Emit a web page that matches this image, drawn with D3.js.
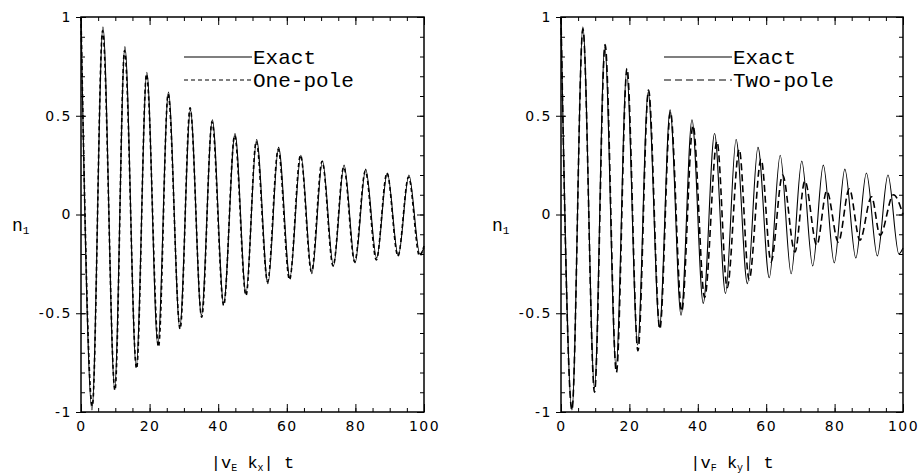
<!DOCTYPE html>
<html>
<head>
<meta charset="utf-8">
<script src="https://cdn.jsdelivr.net/npm/d3@7"></script>
<style>
  body { margin: 0; background: #fff; }
</style>
</head>
<body>
<div id="chart"></div>
<script>
// turning points (t, n1)
const exactT = [0, 3.2, 6.4, 9.8, 12.8, 16.1, 19.2, 22.4, 25.5, 28.8, 31.9, 35.1, 38.3, 41.6, 44.9, 48.1, 51.2, 54.5, 57.6, 60.9, 64.1, 67.3, 70.4, 73.6, 76.7, 79.9, 83.0, 86.2, 89.3, 92.5, 95.6, 98.8, 100];
const exactN = [1.0, -0.99, 0.95, -0.88, 0.85, -0.77, 0.72, -0.66, 0.62, -0.57, 0.53, -0.51, 0.48, -0.45, 0.41, -0.40, 0.38, -0.35, 0.34, -0.32, 0.30, -0.30, 0.27, -0.26, 0.25, -0.245, 0.23, -0.22, 0.21, -0.21, 0.20, -0.20, -0.17];

const onePoleT = [0, 3.3, 6.3, 9.9, 12.7, 16.2, 19.1, 22.6, 25.4, 28.9, 31.8, 35.2, 38.2, 41.6, 44.8, 48.1, 51.1, 54.4, 57.5, 60.8, 64.0, 67.2, 70.3, 73.5, 76.6, 79.8, 82.9, 86.1, 89.2, 92.4, 95.5, 98.7, 100];
const onePoleN = [1.0, -0.97, 0.93, -0.89, 0.83, -0.78, 0.71, -0.67, 0.61, -0.58, 0.54, -0.52, 0.47, -0.46, 0.40, -0.41, 0.37, -0.34, 0.33, -0.33, 0.30, -0.29, 0.27, -0.26, 0.24, -0.24, 0.22, -0.23, 0.21, -0.21, 0.19, -0.21, -0.16];

const twoPoleT = [0, 3.2, 6.4, 9.8, 12.9, 16.2, 19.3, 22.5, 25.6, 28.9, 32.0, 35.3, 38.6, 42.0, 45.6, 48.6, 52.1, 55.0, 58.5, 61.4, 64.8, 68.4, 71.3, 74.8, 77.7, 81.1, 84.3, 87.4, 90.8, 93.3, 97.2, 100];
const twoPoleN = [1.0, -0.99, 0.94, -0.90, 0.86, -0.80, 0.74, -0.69, 0.63, -0.58, 0.52, -0.49, 0.45, -0.42, 0.37, -0.37, 0.33, -0.33, 0.28, -0.24, 0.20, -0.19, 0.17, -0.155, 0.12, -0.14, 0.13, -0.13, 0.09, -0.105, 0.10, 0.0];

const xMajor = [0, 20, 40, 60, 80, 100];
const yMajor = [-1, -0.5, 0, 0.5, 1];
const yLabels = ["-1", "-0.5", "0", "0.5", "1"];

function zip(ts, ns) { return ts.map((t, i) => ({t: t, n: ns[i]})); }

const W = 919, H = 475;
const svg = d3.select("#chart").append("svg")
    .attr("width", W).attr("height", H);

const panels = [
    { left: 81,  right: 424, approx: zip(onePoleT, onePoleN), name: "One-pole", dash: "4,3", xsub: ["E", "x"] },
    { left: 561, right: 903, approx: zip(twoPoleT, twoPoleN), name: "Two-pole", dash: "7,4", xsub: ["F", "y"] }
];
const exact = zip(exactT, exactN);

const tickFont = "'DejaVu Sans', sans-serif";
const textFont = "'Liberation Mono', monospace";

panels.forEach(p => {
    const x = d3.scaleLinear().domain([0, 100]).range([p.left, p.right]);
    const y = d3.scaleLinear().domain([-1, 1]).range([412, 17]);
    const g = svg.append("g");

    const clean = sel => sel.select(".domain").remove();

    // minor ticks (inward)
    g.append("g").attr("transform", `translate(0,${y(-1)})`)
        .call(d3.axisBottom(x).tickValues(d3.range(0, 101, 5)).tickSize(-4).tickFormat(""))
        .call(clean);
    g.append("g").attr("transform", `translate(0,${y(1)})`)
        .call(d3.axisTop(x).tickValues(d3.range(0, 101, 5)).tickSize(-4).tickFormat(""))
        .call(clean);
    g.append("g").attr("transform", `translate(${x(0)},0)`)
        .call(d3.axisLeft(y).tickValues(d3.range(-10, 11).map(v => v / 10)).tickSize(-4).tickFormat(""))
        .call(clean);
    g.append("g").attr("transform", `translate(${x(100)},0)`)
        .call(d3.axisRight(y).tickValues(d3.range(-10, 11).map(v => v / 10)).tickSize(-4).tickFormat(""))
        .call(clean);

    // major ticks + labels
    const bottom = g.append("g").attr("transform", `translate(0,${y(-1)})`)
        .call(d3.axisBottom(x).tickValues(xMajor).tickSize(-8).tickPadding(9).tickFormat(d3.format("d")))
        .call(clean);
    bottom.selectAll("text").attr("font-family", tickFont).attr("font-size", 14)
        .attr("letter-spacing", 1.5).attr("fill", "#000");
    g.append("g").attr("transform", `translate(0,${y(1)})`)
        .call(d3.axisTop(x).tickValues(xMajor).tickSize(-8).tickFormat(""))
        .call(clean);

    const leftAx = g.append("g").attr("transform", `translate(${x(0)},0)`)
        .call(d3.axisLeft(y).tickValues(yMajor).tickSize(5).tickPadding(4)
            .tickFormat((d, i) => yLabels[i]))
        .call(clean);
    leftAx.selectAll("text").attr("font-family", tickFont).attr("font-size", 14)
        .attr("letter-spacing", 1.5).attr("fill", "#000");
    g.append("g").attr("transform", `translate(${x(0)},0)`)
        .call(d3.axisLeft(y).tickValues(yMajor).tickSize(-5).tickFormat(""))
        .call(clean);
    g.append("g").attr("transform", `translate(${x(100)},0)`)
        .call(d3.axisRight(y).tickValues(yMajor).tickSize(-7).tickFormat(""))
        .call(clean);

    g.selectAll(".tick line").attr("stroke", "#000").attr("stroke-width", 1);

    // frame
    g.append("rect")
        .attr("x", x(0)).attr("y", y(1))
        .attr("width", x(100) - x(0)).attr("height", y(-1) - y(1))
        .attr("fill", "none").attr("stroke", "#000").attr("stroke-width", 1.5);

    const line = d3.line().x(d => x(d.t)).y(d => y(d.n)).curve(d3.curveMonotoneX);

    g.append("path").datum(exact)
        .attr("d", line).attr("fill", "none")
        .attr("stroke", "#000").attr("stroke-width", 1.1);
    g.append("path").datum(p.approx)
        .attr("d", line).attr("fill", "none")
        .attr("stroke", "#000").attr("stroke-width", 1.6)
        .attr("stroke-dasharray", p.dash);

    // legend
    const lx0 = p.left + 103, lx1 = p.left + 171;
    g.append("line").attr("x1", lx0).attr("x2", lx1).attr("y1", 57).attr("y2", 57)
        .attr("stroke", "#000").attr("stroke-width", 1.2);
    g.append("line").attr("x1", lx0).attr("x2", lx1).attr("y1", 80).attr("y2", 80)
        .attr("stroke", "#000").attr("stroke-width", 1.2).attr("stroke-dasharray", p.dash);
    g.append("text").attr("x", lx1 + 1).attr("y", 64)
        .attr("font-family", textFont).attr("font-size", 21).text("Exact");
    g.append("text").attr("x", lx1 + 1).attr("y", 87)
        .attr("font-family", textFont).attr("font-size", 21).text(p.name);

    // y title  n1
    const yt = g.append("text").attr("x", p.left - 69).attr("y", 231)
        .attr("font-family", textFont).attr("font-size", 18);
    yt.append("tspan").text("n");
    yt.append("tspan").attr("font-size", 11).attr("dy", 3).text("1");

    // x title |vE kx| t
    const xt = g.append("text").attr("x", (p.left + p.right) / 2).attr("y", 468)
        .attr("text-anchor", "middle")
        .attr("font-family", textFont).attr("font-size", 17);
    xt.append("tspan").text("|v");
    xt.append("tspan").attr("font-size", 10).attr("dy", 3).text(p.xsub[0]);
    xt.append("tspan").attr("dy", -3).text(" k");
    xt.append("tspan").attr("font-size", 10).attr("dy", 3).text(p.xsub[1]);
    xt.append("tspan").attr("dy", -3).text("| t");
});
</script>
</body>
</html>
